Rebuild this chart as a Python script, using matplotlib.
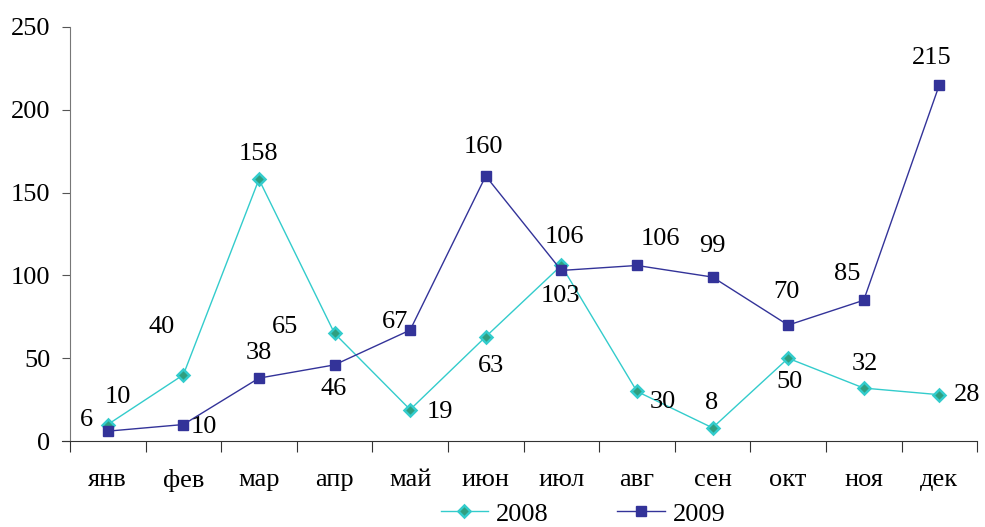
import numpy as np
import matplotlib.pyplot as plt

plt.rcParams['font.family'] = ['Liberation Serif', 'DejaVu Serif']

months = ['янв', 'фев', 'мар', 'апр', 'май', 'июн',
          'июл', 'авг', 'сен', 'окт', 'ноя', 'дек']
y2008 = [10, 40, 158, 65, 19, 63, 106, 30, 8, 50, 32, 28]
y2009 = [6, 10, 38, 46, 67, 160, 103, 106, 99, 70, 85, 215]

# label offsets in pixels (dx, dy) for each point
off2008 = [(10, 28), (-22, 48), (0, 25), (-50, 6), (30, -2), (5, -29),
           (3, 28), (26, -11), (-1, 25), (1, -24), (1, 24), (28, 0)]
off2009 = [(-21, 11), (21, -2), (0, 25), (-1, -24), (-15, 8), (-2, 29),
           (-1, -26), (23, 26), (0, 31), (-2, 33), (-17, 26), (-8, 27)]

fig = plt.figure(figsize=(9.85, 5.27), dpi=100)
ax = fig.add_axes([0.071, 0.163, 0.921, 0.786])

x = np.arange(len(months)) + 0.5

ax.plot(x, y2008, color='#33cccc', lw=1, marker='D', ms=6,
        mfc='#2f9f80', mec='#33cccc', mew=1.8, label='2008')
ax.plot(x, y2009, color='#333399', lw=1, marker='s', ms=7.5,
        mfc='#333399', mec='#333399', label='2009')

for xi, v, (dx, dy) in zip(x, y2008, off2008):
    ax.annotate(str(v), (xi, v), xytext=(dx, dy), textcoords='offset pixels',
                ha='center', va='center', fontsize=19)
for xi, v, (dx, dy) in zip(x, y2009, off2009):
    ax.annotate(str(v), (xi, v), xytext=(dx, dy), textcoords='offset pixels',
                ha='center', va='center', fontsize=19)

ax.set_xlim(0, 12)
ax.set_ylim(0, 250)
ax.set_yticks(range(0, 251, 50))
ax.tick_params(axis='y', labelsize=19, length=6, direction='out',
               color='#555555', pad=8)

ax.set_xticks(range(13))
ax.set_xticklabels([])
ax.set_xticks(x, minor=True)
ax.set_xticklabels(months, minor=True)
ax.tick_params(axis='x', which='major', length=8, direction='out', color='#333333')
ax.tick_params(axis='x', which='minor', length=0, labelsize=19, pad=20)

for s in ['top', 'right']:
    ax.spines[s].set_visible(False)
ax.spines['left'].set_color('#777777')
ax.spines['bottom'].set_color('#333333')
ax.spines['bottom'].set_bounds(-0.1, 12)

fig.legend(loc='center', bbox_to_anchor=(0.592, 0.025), ncol=2,
           frameon=False, fontsize=19, handlelength=1.8, columnspacing=2.6,
           handletextpad=0.3)

fig.savefig('out.png', dpi=100)
